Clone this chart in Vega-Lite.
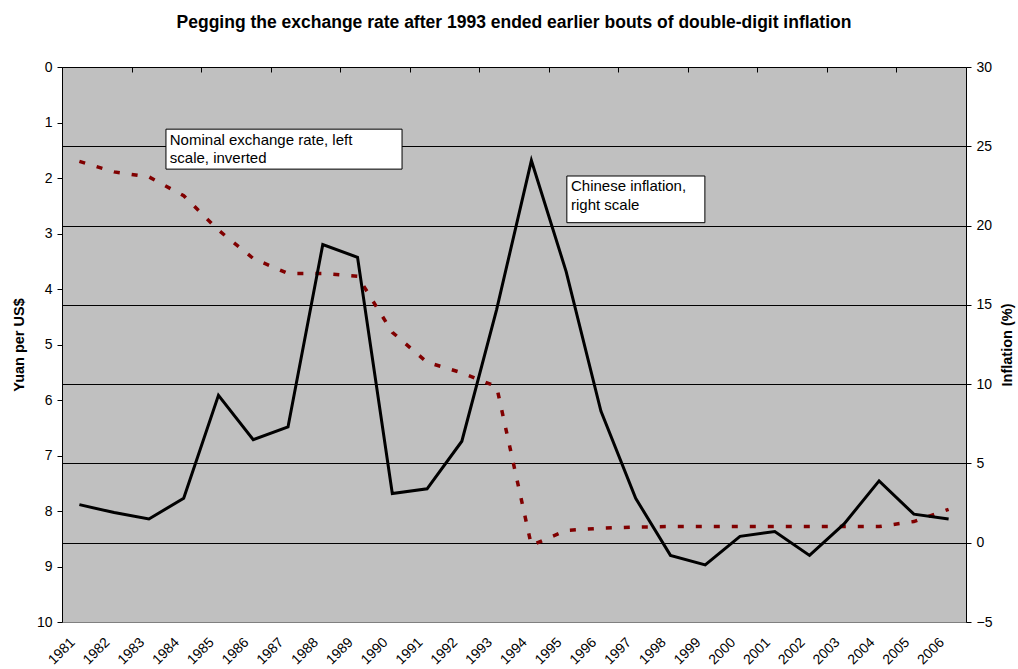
{
  "$schema": "https://vega.github.io/schema/vega-lite/v6.json",
  "width": 904,
  "height": 555,
  "autosize": {"type": "none"},
  "padding": {"left": 62, "top": 67, "right": 52, "bottom": 47},
  "background": "white",
  "title": {
    "text": "Pegging the exchange rate after 1993 ended earlier bouts of double-digit inflation",
    "font": "Liberation Sans",
    "fontSize": 17.5,
    "fontWeight": "bold",
    "color": "black",
    "anchor": "middle",
    "offset": 29
  },
  "config": {
    "font": "Liberation Sans",
    "view": {"fill": "#C0C0C0", "stroke": null},
    "axis": {
      "labelFont": "Liberation Sans",
      "labelFontSize": 14,
      "labelColor": "black",
      "titleFont": "Liberation Sans",
      "titleFontSize": 14.5,
      "titleFontWeight": "bold",
      "titleColor": "black",
      "domainColor": "black",
      "domainWidth": 1,
      "tickColor": "black",
      "tickWidth": 1
    }
  },
  "datasets": {
    "series": [
      {"year": 1981, "inflation": 2.4, "rate": 1.70},
      {"year": 1982, "inflation": 1.9, "rate": 1.89},
      {"year": 1983, "inflation": 1.5, "rate": 1.98},
      {"year": 1984, "inflation": 2.8, "rate": 2.32},
      {"year": 1985, "inflation": 9.3, "rate": 2.94},
      {"year": 1986, "inflation": 6.5, "rate": 3.45},
      {"year": 1987, "inflation": 7.3, "rate": 3.72},
      {"year": 1988, "inflation": 18.8, "rate": 3.72},
      {"year": 1989, "inflation": 18.0, "rate": 3.77},
      {"year": 1990, "inflation": 3.1, "rate": 4.78},
      {"year": 1991, "inflation": 3.4, "rate": 5.32},
      {"year": 1992, "inflation": 6.4, "rate": 5.51},
      {"year": 1993, "inflation": 14.7, "rate": 5.76},
      {"year": 1994, "inflation": 24.1, "rate": 8.62},
      {"year": 1995, "inflation": 17.1, "rate": 8.35},
      {"year": 1996, "inflation": 8.3, "rate": 8.31},
      {"year": 1997, "inflation": 2.8, "rate": 8.29},
      {"year": 1998, "inflation": -0.8, "rate": 8.28},
      {"year": 1999, "inflation": -1.4, "rate": 8.28},
      {"year": 2000, "inflation": 0.4, "rate": 8.28},
      {"year": 2001, "inflation": 0.7, "rate": 8.28},
      {"year": 2002, "inflation": -0.8, "rate": 8.28},
      {"year": 2003, "inflation": 1.2, "rate": 8.28},
      {"year": 2004, "inflation": 3.9, "rate": 8.28},
      {"year": 2005, "inflation": 1.8, "rate": 8.19},
      {"year": 2006, "inflation": 1.5, "rate": 7.97}
    ],
    "boxes": [
      {"x1": 1983.49, "x2": 1990.28, "y1": 1.12, "y2": 1.84},
      {"x1": 1995.02, "x2": 1998.99, "y1": 1.964, "y2": 2.805}
    ],
    "notes": [
      {"x": 1983.6, "y": 1.315, "label": "Nominal exchange rate, left"},
      {"x": 1983.6, "y": 1.64, "label": "scale, inverted"},
      {"x": 1995.14, "y": 2.14, "label": "Chinese inflation,"},
      {"x": 1995.14, "y": 2.49, "label": "right scale"}
    ]
  },
  "layer": [
    {
      "layer": [
        {
          "data": {"name": "series"},
          "mark": {"type": "line", "color": "#800000", "strokeWidth": 3.5, "strokeDash": [6, 12]},
          "encoding": {
            "x": {
              "field": "year",
              "type": "quantitative",
              "scale": {"domain": [1980.5, 2006.5], "nice": false, "zero": false},
              "axis": {
                "orient": "top",
                "values": [1980.5, 1981.5, 1982.5, 1983.5, 1984.5, 1985.5, 1986.5, 1987.5, 1988.5, 1989.5, 1990.5, 1991.5, 1992.5, 1993.5, 1994.5, 1995.5, 1996.5, 1997.5, 1998.5, 1999.5, 2000.5, 2001.5, 2002.5, 2003.5, 2004.5, 2005.5, 2006.5],
                "labels": false,
                "domain": false,
                "offset": -5,
                "tickSize": 5,
                "ticks": true,
                "grid": false,
                "title": null
              }
            },
            "y": {
              "field": "rate",
              "type": "quantitative",
              "scale": {"domain": [0, 10], "reverse": true, "nice": false, "zero": false},
              "axis": {
                "orient": "left",
                "values": [0, 1, 2, 3, 4, 5, 6, 7, 8, 9, 10],
                "tickSize": 5,
                "labelPadding": 5,
                "grid": false,
                "title": "Yuan per US$",
                "titlePadding": 10
              }
            }
          }
        },
        {
          "data": {"name": "boxes"},
          "mark": {"type": "rect", "fill": "white", "stroke": "black", "strokeWidth": 1},
          "encoding": {
            "x": {"field": "x1", "type": "quantitative"},
            "x2": {"field": "x2"},
            "y": {"field": "y1", "type": "quantitative"},
            "y2": {"field": "y2"}
          }
        },
        {
          "data": {"name": "notes"},
          "mark": {"type": "text", "align": "left", "baseline": "middle", "fontSize": 15, "color": "black", "font": "Liberation Sans"},
          "encoding": {
            "x": {"field": "x", "type": "quantitative"},
            "y": {"field": "y", "type": "quantitative"},
            "text": {"field": "label"}
          }
        }
      ]
    },
    {
      "data": {"name": "series"},
      "mark": {"type": "line", "color": "black", "strokeWidth": 3},
      "encoding": {
        "x": {
          "field": "year",
          "type": "quantitative",
          "scale": {"domain": [1980.5, 2006.5], "nice": false, "zero": false},
          "axis": {
            "orient": "bottom",
            "values": [1981, 1982, 1983, 1984, 1985, 1986, 1987, 1988, 1989, 1990, 1991, 1992, 1993, 1994, 1995, 1996, 1997, 1998, 1999, 2000, 2001, 2002, 2003, 2004, 2005, 2006],
            "format": "d",
            "labelAngle": -45,
            "labelAlign": "right",
            "labelBaseline": "middle",
            "labelFlush": false,
            "labelOverlap": false,
            "labelPadding": 18,
            "labelOffset": -7,
            "ticks": false,
            "grid": false,
            "domainColor": "#808080",
            "title": null
          }
        },
        "y": {
          "field": "inflation",
          "type": "quantitative",
          "scale": {"domain": [-5, 30], "nice": false, "zero": false},
          "axis": {
            "orient": "right",
            "values": [-5, 0, 5, 10, 15, 20, 25, 30],
            "tickSize": 5,
            "labelPadding": 5,
            "grid": true,
            "gridColor": {"condition": {"test": "datum.value === -5", "value": "#808080"}, "value": "black"},
            "gridWidth": 1,
            "title": "Inflation (%)",
            "titleAngle": 270,
            "titleBaseline": "top",
            "titlePadding": 9
          }
        }
      }
    }
  ],
  "resolve": {"scale": {"x": "independent", "y": "independent"}, "axis": {"x": "independent", "y": "independent"}}
}
